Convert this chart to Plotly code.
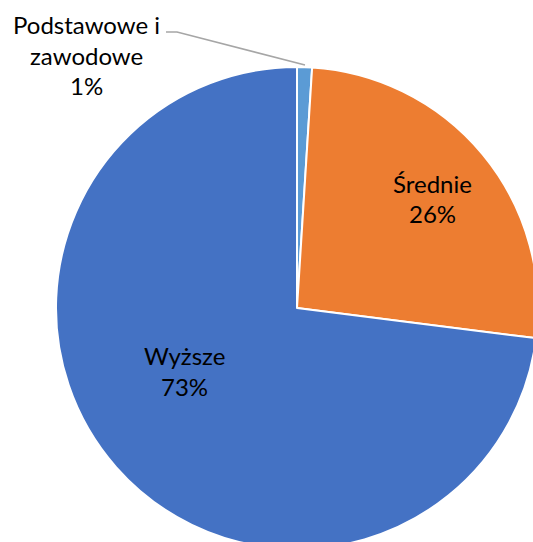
import plotly.graph_objects as go

labels = ["Podstawowe i zawodowe", "Średnie", "Wyższe"]
label_lines = [["Podstawowe i", "zawodowe"], ["Średnie"], ["Wyższe"]]
values = [1, 26, 73]
colors = ["#5B9BD5", "#ED7D31", "#4472C4"]

W, H = 540, 552
cx, cy, r = 297, 308, 241
FONT = dict(family="Lato, Open Sans, sans-serif", size=24, color="black")

fig = go.Figure(go.Pie(
    labels=labels,
    values=values,
    sort=False,
    direction="clockwise",
    rotation=0,
    marker=dict(colors=colors, line=dict(color="white", width=2)),
    textinfo="none",
    domain=dict(x=[(cx - r) / W, (cx + r) / W], y=[1 - (cy + r) / H, 1 - (cy - r) / H]),
    showlegend=False,
    hoverinfo="label+percent",
))

total = sum(values)
# label anchor (x center, first line center y) in pixels, line spacing
label_pos = [(86, 24.5), (432.5, 183.5), (184, 355.5)]
spacing = 30.5
for lines, v, (px, py) in zip(label_lines, values, label_pos):
    all_lines = lines + [f"{round(100 * v / total)}%"]
    for i, t in enumerate(all_lines):
        fig.add_annotation(
            x=px / W, y=1 - (py + i * spacing) / H, xref="paper", yref="paper",
            text=t, showarrow=False, xanchor="center", yanchor="middle",
            font=FONT,
        )

fig.add_shape(
    type="path", xref="paper", yref="paper",
    path=f"M {166/W} {1-32/H} L {177/W} {1-32/H} L {305/W} {1-65/H}",
    line=dict(color="#A6A6A6", width=1.5),
)

fig.update_layout(
    width=W, height=H, autosize=False,
    margin=dict(l=0, r=0, t=0, b=0),
    paper_bgcolor="white", plot_bgcolor="white",
)

fig.write_html(
    "out.html",
    config={"displayModeBar": False},
    post_script="document.body.style.margin='0';document.body.style.overflow='hidden';",
)
